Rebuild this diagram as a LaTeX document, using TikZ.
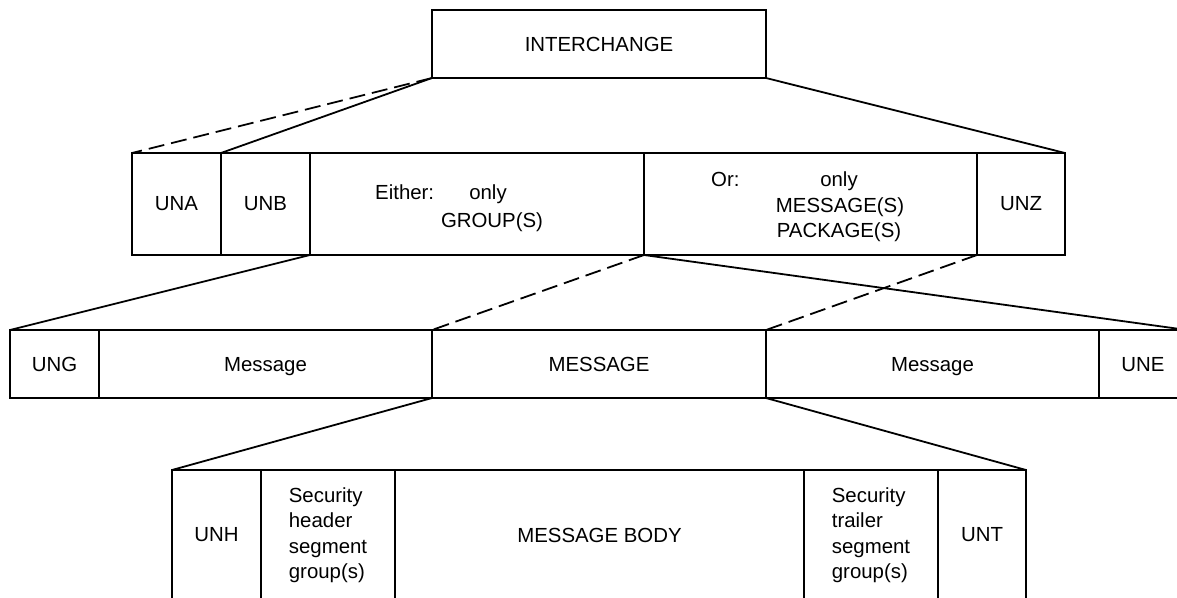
\documentclass[tikz,border=0pt]{standalone}
\usepackage{fontspec}
\setmainfont{Liberation Sans}
\usetikzlibrary{positioning}

\begin{document}
\begin{tikzpicture}[
  x=1pt, y=-1pt,
  every node/.style={font=\fontsize{20.4}{25.5}\selectfont, inner sep=0pt},
  seg/.style={draw, line width=1.8pt, outer sep=0pt, anchor=north west},
  segA/.style={seg, minimum height=102pt},
  segB/.style={seg, minimum height=68pt, text depth=0pt},
  segC/.style={seg, minimum height=130pt},
  link/.style={line width=1.8pt},
  dlink/.style={link, dash pattern=on 16pt off 7pt}
]
  \useasboundingbox (0,0) rectangle (1177,597);
  \clip (0,0) rectangle (1177,597);

  \node[segB, minimum width=334pt] (inter) at (432,10) {INTERCHANGE};

  % interchange level
  \node[segA, minimum width=89pt]                      (una)    at (132,153) {UNA};
  \node[segA, minimum width=89pt,  right=0pt of una]    (unb)    {UNB};
  \node[segA, minimum width=334pt, right=0pt of unb]    (either) {};
  \node[segA, minimum width=333pt, right=0pt of either] (orcell) {};
  \node[segA, minimum width=88pt,  right=0pt of orcell] (unz)    {UNZ};

  \node[anchor=base west] (eitherLbl)  at (375,199) {Either:};
  \node[anchor=base]      (eitherOnly) at (488,199) {only};
  \node[anchor=base]      (eitherGrp)  at (492,227) {GROUP(S)};
  \node[anchor=base west] (orLbl)      at (711,186) {Or:};
  \node[anchor=base]      (orOnly)     at (839,186) {only};
  \node[anchor=base]      (orMsg)      at (840,212) {MESSAGE(S)};
  \node[anchor=base]      (orPkg)      at (839,237) {PACKAGE(S)};

  % group level
  \node[segB, minimum width=89pt]                       (ung)     at (10,330) {UNG};
  \node[segB, minimum width=333pt, right=0pt of ung]     (msgA)    {Message};
  \node[segB, minimum width=334pt, right=0pt of msgA]    (msgMain) {MESSAGE};
  \node[segB, minimum width=333pt, right=0pt of msgMain] (msgB)    {Message};
  \node[segB, minimum width=88pt,  right=0pt of msgB]    (une)     {UNE};

  % message level
  \node[segC, minimum width=89pt]                                     (unh)       at (172,470) {UNH};
  \node[segC, minimum width=134pt, align=left, right=0pt of unh]       (secHead)   {Security\\header\\segment\\group(s)};
  \node[segC, minimum width=409pt, right=0pt of secHead]               (body)      {MESSAGE BODY};
  \node[segC, minimum width=134pt, align=left, right=0pt of body]      (secTrail)  {Security\\trailer\\segment\\group(s)};
  \node[segC, minimum width=88pt,  right=0pt of secTrail]              (unt)       {UNT};

  \draw[dlink] (inter.south west) -- (una.north west);
  \draw[link]  (inter.south west) -- (unb.north west);
  \draw[link]  (inter.south east) -- (unz.north east);

  \draw[link]  (unb.south east)    -- (ung.north west);
  \draw[dlink] (orcell.south west) -- (msgMain.north west);
  \draw[dlink] (orcell.south east) -- (msgB.north west);
  \draw[link]  (orcell.south west) -- (une.north east);

  \draw[link]  (msgMain.south west) -- (unh.north west);
  \draw[link]  (msgMain.south east) -- (unt.north east);
\end{tikzpicture}
\end{document}
